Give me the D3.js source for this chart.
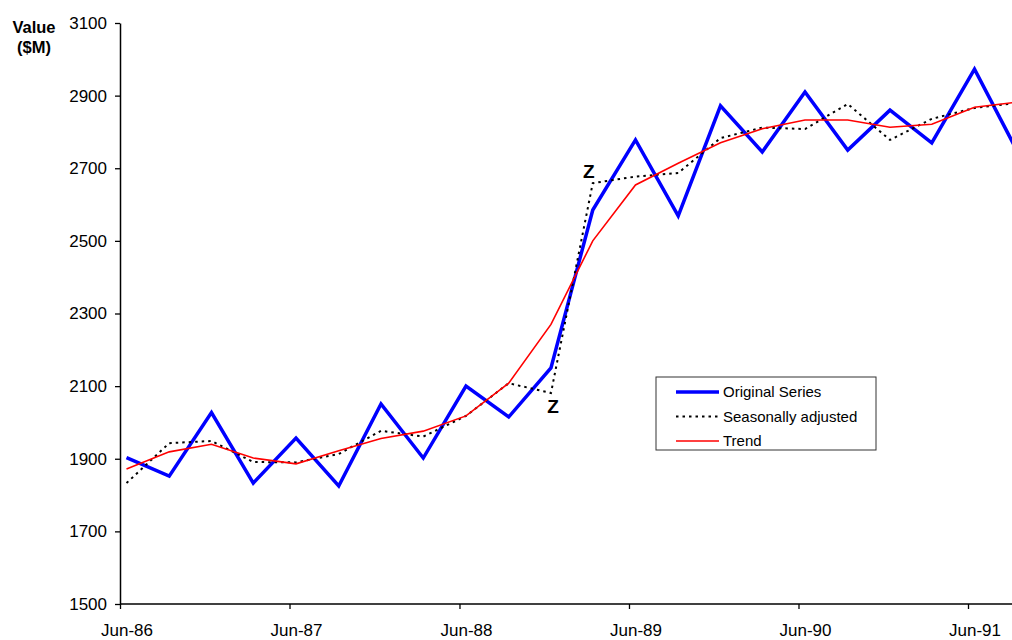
<!DOCTYPE html>
<html>
<head>
<meta charset="utf-8">
<script src="https://cdn.jsdelivr.net/npm/d3@7"></script>
<style>
  html, body { margin: 0; padding: 0; background: #fff; }
  svg { display: block; font-family: "Liberation Sans", Arial, sans-serif; }
</style>
</head>
<body>
<svg id="chart" width="1012" height="640"></svg>
<script>
// Quarterly observations (mid-month of each quarter)
const quarters = [
  "1986-06-15", "1986-09-15", "1986-12-15", "1987-03-15",
  "1987-06-15", "1987-09-15", "1987-12-15", "1988-03-15",
  "1988-06-15", "1988-09-15", "1988-12-15", "1989-03-15",
  "1989-06-15", "1989-09-15", "1989-12-15", "1990-03-15",
  "1990-06-15", "1990-09-15", "1990-12-15", "1991-03-15",
  "1991-06-15", "1991-09-15"
];
const original = [1903, 1852, 2027, 1833, 1957, 1825, 2051, 1902, 2100, 2015, 2150,
                  2585, 2778, 2569, 2872, 2745, 2910, 2750, 2860, 2770, 2973, 2747];
const seasonal = [1833, 1943, 1949, 1891, 1890, 1913, 1977, 1961, 2018, 2108, 2081,
                  2659, 2677, 2687, 2783, 2812, 2808, 2877, 2778, 2836, 2866, 2880];
const trend    = [1872, 1919, 1940, 1902, 1886, 1922, 1956, 1976, 2018, 2108, 2270,
                  2500, 2654, 2714, 2770, 2809, 2833, 2833, 2813, 2821, 2868, 2882];
const yTicks = [1500, 1700, 1900, 2100, 2300, 2500, 2700, 2900, 3100];
const xTicks = ["1986-06-01", "1987-06-01", "1988-06-01", "1989-06-01", "1990-06-01", "1991-06-01"];
// Points flagged as extreme values
const zMarks = [{ i: 11, dx: -4, dy: -5 }, { i: 10, dx: 2, dy: 20 }];

const parse = d3.timeParse("%Y-%m-%d");
const dates = quarters.map(parse);

const svg = d3.select("#chart");
const W = 1012, H = 640;
const plotLeft = 120, plotTop = 23, plotBottom = 604;

const x = d3.scaleTime()
  .domain([parse("1986-06-01"), parse("1991-06-01")])
  .range([plotLeft, 968]);
const y = d3.scaleLinear().domain([1500, 3100]).range([plotBottom, plotTop]);

// Axes
const yAxis = svg.append("g")
  .attr("transform", `translate(${plotLeft},0)`)
  .call(d3.axisLeft(y).tickValues(yTicks).tickFormat(d3.format("d"))
    .tickSize(5).tickSizeOuter(0).tickPadding(8));
yAxis.select(".domain").attr("stroke", "#000").attr("stroke-width", 1.5);
yAxis.selectAll(".tick line").attr("stroke", "#000").attr("stroke-width", 1.3);
yAxis.selectAll(".tick text").attr("font-size", 17).attr("fill", "#000")
  .attr("font-family", "'Liberation Sans', Arial, sans-serif");

const xAxis = svg.append("g")
  .attr("transform", `translate(0,${plotBottom})`)
  .call(d3.axisBottom(x).tickValues(xTicks.map(parse)).tickFormat(d3.timeFormat("%b-%y"))
    .tickSize(5).tickSizeOuter(0).tickPadding(15));
xAxis.select(".domain").attr("stroke", "#000").attr("stroke-width", 1.5)
  .attr("d", `M${plotLeft},0H${W}`);
xAxis.selectAll(".tick line").attr("stroke", "#000").attr("stroke-width", 1.3);
// month labels sit under the mid-month observation rather than the tick
const labelShift = x(dates[0]) - x(parse(xTicks[0]));
xAxis.selectAll(".tick text").attr("font-size", 17).attr("fill", "#000")
  .attr("dx", labelShift)
  .attr("font-family", "'Liberation Sans', Arial, sans-serif");

// Y axis title
svg.append("text").attr("x", 34).attr("y", 33).attr("text-anchor", "middle")
  .attr("font-weight", "bold").attr("font-size", 16.5).text("Value");
svg.append("text").attr("x", 34).attr("y", 53).attr("text-anchor", "middle")
  .attr("font-weight", "bold").attr("font-size", 16.5).text("($M)");

// Series
const series = [
  { name: "Original Series", values: original, color: "#0000ff", width: 3.5, dash: null },
  { name: "Seasonally adjusted", values: seasonal, color: "#000", width: 2, dash: "2.5,4" },
  { name: "Trend", values: trend, color: "#ff0000", width: 1.6, dash: null }
];

const plot = svg.append("g");
series.forEach(s => {
  const line = d3.line().x((d, i) => x(dates[i])).y(d => y(d));
  plot.append("path")
    .datum(s.values)
    .attr("d", line)
    .attr("fill", "none")
    .attr("stroke", s.color)
    .attr("stroke-width", s.width)
    .attr("stroke-dasharray", s.dash)
    .attr("stroke-linejoin", "miter");
});

// Extreme value markers
zMarks.forEach(m => {
  svg.append("text")
    .attr("x", x(dates[m.i]) + m.dx)
    .attr("y", y(seasonal[m.i]) + m.dy)
    .attr("text-anchor", "middle")
    .attr("font-weight", "bold").attr("font-size", 19)
    .text("Z");
});

// Legend
const lg = svg.append("g").attr("transform", "translate(656,377)");
lg.append("rect").attr("width", 220).attr("height", 73)
  .attr("fill", "#fff").attr("stroke", "#333").attr("stroke-width", 1);
series.forEach((s, i) => {
  const yy = 15 + i * 24.5;
  lg.append("line").attr("x1", 20).attr("x2", 63).attr("y1", yy).attr("y2", yy)
    .attr("stroke", s.color).attr("stroke-width", s.width)
    .attr("stroke-dasharray", s.dash);
  lg.append("text").attr("x", 67).attr("y", yy + 5)
    .attr("font-size", 15).attr("fill", "#000").text(s.name);
});
</script>
</body>
</html>
